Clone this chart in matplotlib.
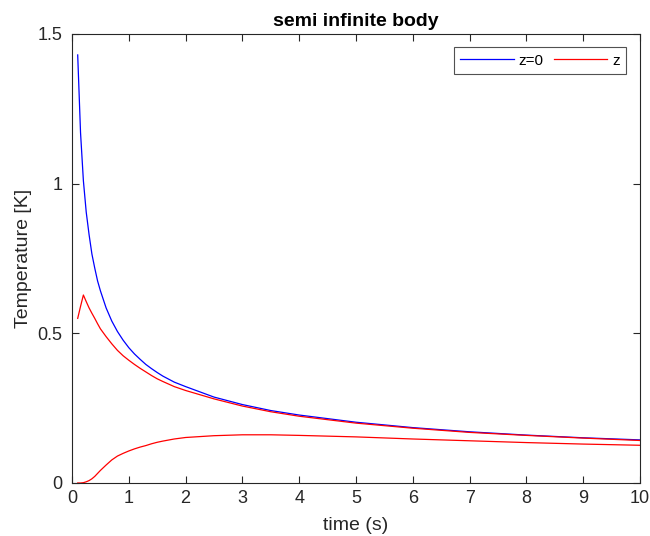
import matplotlib
matplotlib.use("Agg")
import matplotlib.pyplot as plt

plt.rcParams['font.family'] = ['Liberation Sans', 'DejaVu Sans']

t = [0.1, 0.15, 0.2, 0.25, 0.3, 0.35, 0.4, 0.45, 0.5, 0.6, 0.7, 0.8, 0.9, 1.0,
     1.1, 1.2, 1.3, 1.4, 1.5, 1.6, 1.8, 2.0, 2.5, 3.0, 3.5,
     4.0, 5.0, 6.0, 7.0, 8.0, 9.0, 10.0]
T_surface = [1.43, 1.17, 1.01, 0.905, 0.83, 0.765, 0.718, 0.675, 0.642, 0.585,
             0.541, 0.506, 0.477, 0.452, 0.431, 0.413, 0.396, 0.382, 0.369,
             0.357, 0.337, 0.322, 0.287, 0.262, 0.242, 0.227, 0.203, 0.185,
             0.171, 0.160, 0.151, 0.144]
T_z_upper = [0.55, 0.59, 0.628, 0.606, 0.585, 0.567, 0.55, 0.532, 0.515, 0.489,
             0.465, 0.443, 0.425, 0.41, 0.396, 0.383, 0.371, 0.359, 0.348,
             0.339, 0.322, 0.309, 0.281, 0.257, 0.238, 0.223, 0.200, 0.183,
             0.169, 0.159, 0.150, 0.142]
T_z_lower = [0.0, 0.0, 0.001, 0.004, 0.008, 0.014, 0.022, 0.032, 0.042, 0.060,
             0.077, 0.090, 0.099, 0.107, 0.114, 0.120, 0.125, 0.131, 0.136,
             0.140, 0.147, 0.152, 0.158, 0.161, 0.161, 0.159, 0.154, 0.147,
             0.141, 0.135, 0.130, 0.126]

fig = plt.figure(figsize=(6.5, 5.36), dpi=100)
ax = fig.add_axes([0.1108, 0.0989, 0.8738, 0.8377])

ax.plot(t, T_surface, color='blue', lw=0.9, label='z=0')
ax.plot(t, T_z_upper, color='red', lw=0.9, label='z')
ax.plot(t, T_z_lower, color='red', lw=0.9)

ax.set_xlim(0, 10)
ax.set_ylim(0, 1.5)
ax.set_xticks(range(0, 11))
ax.set_yticks([0, 0.5, 1, 1.5])
ax.set_yticklabels(['0', '0.5', '1', '1.5'])

gray = '#262626'
for s in ax.spines.values():
    s.set_color(gray)
    s.set_linewidth(0.8)
ax.tick_params(direction='in', top=True, right=True, colors=gray,
               labelsize=13, length=5, width=0.8)
ax.tick_params(axis='y', pad=7)
ax.tick_params(axis='x', pad=5)
for lab in ax.get_xticklabels() + ax.get_yticklabels():
    lab.set_color(gray)

ax.set_xlabel('time (s)', fontsize=14, color=gray, labelpad=7)
ax.set_ylabel('Temperature [K]', fontsize=14, color=gray, labelpad=4)
ax.set_title('semi infinite body', fontsize=14, fontweight='bold', color='black', pad=6)

leg = ax.legend(loc='upper right', ncol=2, fontsize=11, frameon=True,
                fancybox=False, edgecolor=gray, handlelength=3.5,
                columnspacing=0.7, handletextpad=0.3, borderpad=0.4,
                borderaxespad=0.0, bbox_to_anchor=(0.975, 0.97))
leg.get_frame().set_linewidth(0.8)

fig.savefig('out.png', dpi=100)
